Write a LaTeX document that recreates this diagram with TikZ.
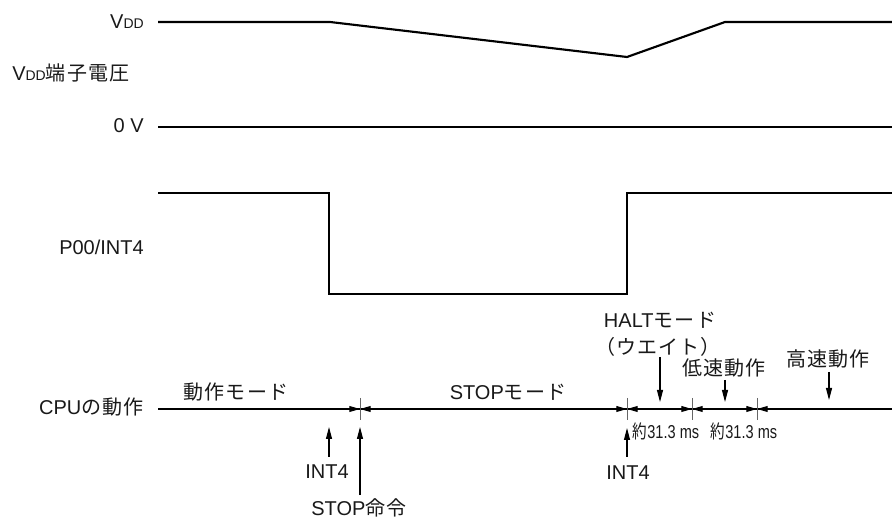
\documentclass[tikz,border=0pt]{standalone}
\usepackage{graphicx}
\usepackage{fontspec}
\setmainfont{Liberation Sans}
\newfontfamily\jp[LetterSpace=6]{Noto Sans CJK JP}
\usetikzlibrary{arrows.meta}
\newcommand{\vddsub}{{\fontsize{10.5}{10.5}\selectfont DD}}
\begin{document}
\begin{tikzpicture}[x=0.75pt,y=-0.75pt,
  lbl/.style={font=\fontsize{15}{17}\selectfont, inner sep=0pt, text=black!90},
  small/.style={font=\fontsize{14}{15}\selectfont, inner sep=0pt, text=black!90},
  wave/.style={line width=1.6pt, line join=miter},
  axisline/.style={line width=0.8pt},
  tickmark/.style={line width=0.7pt, black!60},
  ptr/.style={line width=0.8pt, -{Triangle[length=9pt,width=4.5pt]}},
  dim/.style={line width=0.8pt, -{Triangle[length=8pt,width=4.4pt]}}]
\useasboundingbox (0,0) rectangle (892,523);

% left labels
\node[lbl, anchor=east] (vdd) at (144,22) {V\vddsub};
\node[lbl, anchor=west] (vddt) at (12,73) {V\vddsub{\jp 端子電圧}};
\node[lbl, anchor=east] (zero) at (144,126) {0 V};
\node[lbl, anchor=east] (p00) at (144,247) {P00/INT4};
\node[lbl, anchor=east] (cpu) at (144,407) {CPU{\jp の動作}};

% waveforms
\draw[wave] (158,22) -- (330,22) -- (627,57) -- (725,22) -- (892,22);
\draw[wave] (158,127) -- (892,127);
\draw[wave] (158,193) -- (329,193) -- (329,294) -- (627,294) -- (627,193) -- (892,193);

% CPU timeline
\coordinate (c0) at (158,409);
\coordinate (c1) at (892,409);
\draw[axisline] (c0) -- (c1);
\coordinate (t1) at (360,409);
\coordinate (t2) at (627,409);
\coordinate (t3) at (692,409);
\coordinate (t4) at (757,409);
\foreach \t in {t1,t2,t3,t4}{
  \draw[tickmark] ([yshift=8.25pt]\t) -- ([yshift=-8.25pt]\t);
  \draw[dim] ([xshift=-10pt]\t) -- (\t);
  \draw[dim] ([xshift=10pt]\t) -- (\t);
}

% mode labels
\node[lbl] (opmode) at (236,392) {{\jp 動作モード}};
\node[lbl] (stopmode) at (508,392) {STOP{\jp モード}};
\node[lbl] (halt) at (660,320) {HALT{\jp モード}};
\node[lbl] (wait) at (658,347) {{\jp （ウエイト）}};
\node[lbl] (slow) at (724,368) {{\jp 低速動作}};
\node[lbl] (fast) at (828,359) {{\jp 高速動作}};
\node[small] (d1) at (666,431) {\scalebox{0.78}[1]{{\jp 約}31.3 ms}};
\node[small] (d2) at (744,431) {\scalebox{0.78}[1]{{\jp 約}31.3 ms}};

% bottom labels
\node[lbl] (int4a) at (327,472) {INT4};
\node[lbl] (stopi) at (359,508) {STOP{\jp 命令}};
\node[lbl] (int4b) at (628,473) {INT4};

% pointer arrows
\coordinate (h1) at (660,402);
\coordinate (s1) at (725,402);
\coordinate (f1) at (829,400);
\draw[ptr] (660,357) -- (h1);
\draw[ptr] (725,380) -- (s1);
\draw[ptr] (829,372) -- (f1);
\draw[ptr] (329,457) -- (329,427);
\draw[ptr] (360,495) -- (360,427);
\draw[ptr] (627,457) -- (627,428);
\end{tikzpicture}
\end{document}
